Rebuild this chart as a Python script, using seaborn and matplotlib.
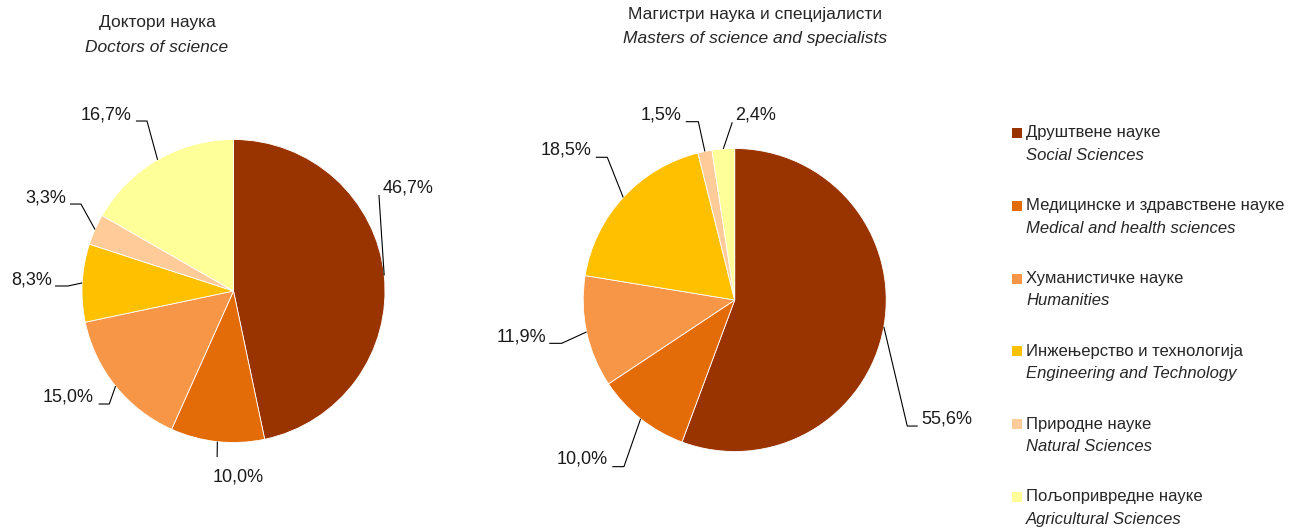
import matplotlib

matplotlib.use("Agg")
import matplotlib.pyplot as plt
import numpy as np
import seaborn as sns
from matplotlib.patches import Rectangle


FIELDS_SR = [
    "Друштвене науке",
    "Медицинске и здравствене науке",
    "Хуманистичке науке",
    "Инжењерство и технологија",
    "Природне науке",
    "Пољопривредне науке",
]
FIELDS_EN = [
    "Social Sciences",
    "Medical and health sciences",
    "Humanities",
    "Engineering and Technology",
    "Natural Sciences",
    "Agricultural Sciences",
]
FIELD_COLORS = ["#993300", "#E36C09", "#F79646", "#FFC000", "#FFCC99", "#FFFF99"]

DOCTORS = [46.7, 10.0, 15.0, 8.3, 3.3, 16.7]
MASTERS = [55.6, 10.0, 11.9, 18.5, 1.5, 2.4]

TITLES_SR = ["Доктори наука", "Магистри наука и специјалисти"]
TITLES_EN = ["Doctors of science", "Masters of science and specialists"]

# label layout in pie units: text x, text y, alignment, tail start x, elbow x, tail y
DOCTORS_LAYOUT = [
    (0.987, 0.68, "left", 0.960, 0.960, 0.634),
    (-0.135, -1.228, "left", -0.108, -0.108, -1.096),
    (-0.92, -0.70, "right", -0.89, -0.82, -0.746),
    (-1.198, 0.073, "right", -1.178, -1.092, 0.033),
    (-1.106, 0.614, "right", -1.079, -1.007, 0.574),
    (-0.67, 1.162, "right", -0.644, -0.571, 1.122),
]
MASTERS_LAYOUT = [
    (1.23, -0.785, "left", 1.208, 1.139, -0.832),
    (-0.836, -1.05, "right", -0.808, -0.731, -1.10),
    (-1.246, -0.242, "right", -1.224, -1.142, -0.286),
    (-0.942, 0.99, "right", -0.917, -0.841, 0.942),
    (-0.348, 1.221, "right", -0.323, -0.240, 1.177),
    (0.002, 1.221, "left", -0.016, -0.016, 1.173),
]

FIG_W, FIG_H = 1296, 531
R_PX = 151.5
HALF = 1.5

sns.set_theme(style="white")
plt.rcParams["font.family"] = ["Liberation Sans", "DejaVu Sans"]


def pie_axes(fig, cx, cy):
    size = 2 * HALF * R_PX
    ax = fig.add_axes([
        (cx - size / 2) / FIG_W,
        (FIG_H - cy - size / 2) / FIG_H,
        size / FIG_W,
        size / FIG_H,
    ])
    return ax


def draw_pie(ax, values, layout):
    wedges, _ = ax.pie(
        values,
        colors=sns.color_palette(FIELD_COLORS),
        startangle=90,
        counterclock=False,
        radius=1,
        wedgeprops=dict(linewidth=0.6, edgecolor="white"),
    )
    ax.set_xlim(-HALF, HALF)
    ax.set_ylim(-HALF, HALF)
    ax.set_aspect("equal")
    ax.axis("off")

    for wedge, value, (tx, ty, ha, x0, x1, ly) in zip(wedges, values, layout):
        mid = np.deg2rad((wedge.theta1 + wedge.theta2) / 2)
        ax.plot([x0, x1, np.cos(mid)], [ly, ly, np.sin(mid)], color="black", lw=0.8,
                solid_capstyle="butt")
        label = f"{value:.1f}".replace(".", ",") + "%"
        ax.text(tx, ty, label, ha=ha, va="center", fontsize=13, color="#1a1a1a")


fig = plt.figure(figsize=(FIG_W / 100, FIG_H / 100), dpi=100)

draw_pie(pie_axes(fig, 233.5, 291), DOCTORS, DOCTORS_LAYOUT)
draw_pie(pie_axes(fig, 734.7, 300), MASTERS, MASTERS_LAYOUT)

for (cx, y1, y2), sr, en in zip([(157, 23, 47), (755, 15, 39)], TITLES_SR, TITLES_EN):
    fig.text(cx / FIG_W, 1 - y1 / FIG_H, sr, ha="center", va="center", fontsize=12.5)
    fig.text(cx / FIG_W, 1 - y2 / FIG_H, en, ha="center", va="center", fontsize=12.5,
             style="italic")

# legend
for i, (sr, en, color) in enumerate(zip(FIELDS_SR, FIELDS_EN, FIELD_COLORS)):
    y = 133 + i * 72.8
    fig.patches.append(Rectangle(
        (1012 / FIG_W, 1 - (y + 5) / FIG_H), 10 / FIG_W, 10 / FIG_H,
        transform=fig.transFigure, facecolor=color, edgecolor="none",
    ))
    fig.text(1026 / FIG_W, 1 - y / FIG_H, sr, ha="left", va="center", fontsize=12)
    fig.text(1026 / FIG_W, 1 - (y + 22.3) / FIG_H, en, ha="left", va="center",
             fontsize=12, style="italic")

fig.savefig("out.png", dpi=100, facecolor="white")
